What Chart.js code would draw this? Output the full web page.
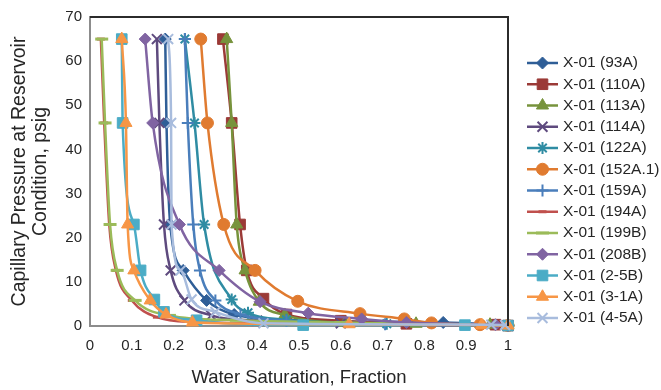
<!DOCTYPE html>
<html><head><meta charset="utf-8">
<script src="https://cdn.jsdelivr.net/npm/chart.js@4.4.1/dist/chart.umd.min.js"></script>
<style>html,body{margin:0;padding:0;background:#fff;}#wrap{width:661px;height:390px;position:relative;}</style>
</head><body><div id="wrap"><canvas id="c" width="661" height="390"></canvas></div>
<script>
// ---- data (Water saturation, fraction / Capillary pressure, psig) ----
const seriesNames = ['X-01 (93A)','X-01 (110A)','X-01 (113A)','X-01 (114A)','X-01 (122A)','X-01 (152A.1)','X-01 (159A)','X-01 (194A)','X-01 (199B)','X-01 (208B)','X-01 (2-5B)','X-01 (3-1A)','X-01 (4-5A)'];
const xTicks = [0,0.1,0.2,0.3,0.4,0.5,0.6,0.7,0.8,0.9,1];
const xTickLabels = ['0','0.1','0.2','0.3','0.4','0.5','0.6','0.7','0.8','0.9','1'];
const yTicks = [0,10,20,30,40,50,60,70];

const sw_93A  = [0.18,0.183,0.192,0.223,0.279,0.345,0.52,0.845,1.0];
const pc_93A  = [65,46,23,12.6,5.8,2.6,1.2,0.8,0.2];
const sw_110A = [0.318,0.339,0.359,0.375,0.415,0.47,0.6,0.757,0.97,1.0];
const pc_110A = [65,46,23,12.6,6.2,2.6,1.2,0.5,0.3,0.1];
const sw_113A = [0.327,0.339,0.351,0.371,0.405,0.466,0.61,0.78,0.957,1.0];
const pc_113A = [65,46,23,12.6,5.5,2.5,0.7,0.5,0.3,0.1];
const sw_114A = [0.16,0.166,0.177,0.193,0.226,0.29,0.4,0.6,1.0];
const pc_114A = [65,46,23,12.6,5.8,2.4,1.2,0.6,0.1];
const sw_122A = [0.227,0.25,0.273,0.339,0.378,0.47,0.71,1.0];
const pc_122A = [65,46,23,6.0,3.0,1.4,0.5,0.1];
const sw_152A = [0.265,0.281,0.32,0.395,0.497,0.646,0.752,0.817,0.933,1.0];
const pc_152A = [65,46,23,12.6,5.6,2.8,1.6,0.7,0.3,0.1];
const sw_159A = [0.227,0.234,0.247,0.263,0.3,0.36,0.47,0.706,1.0];
const pc_159A = [65,46,23,12.6,5.8,2.6,1.2,0.4,0.1];
const sw_194A = [0.026,0.034,0.046,0.062,0.1,0.16,0.25,0.5,1.0];
const pc_194A = [65,46,23,12.6,5.8,2.0,0.9,0.5,0.1];
const sw_199B = [0.028,0.036,0.048,0.065,0.108,0.19,0.35,0.6,1.0];
const pc_199B = [65,46,23,12.6,5.8,2.4,1.3,0.8,0.1];
const sw_208B = [0.132,0.15,0.214,0.309,0.407,0.522,0.65,0.757,0.97,1.0];
const pc_208B = [65,46,23,12.6,5.5,2.9,1.6,0.8,0.3,0.1];
const sw_25B  = [0.076,0.078,0.105,0.121,0.154,0.177,0.255,0.51,0.897,1.0];
const pc_25B  = [65,46,23,12.6,6.0,3.2,1.3,0.2,0.2,0.1];
const sw_31A  = [0.076,0.086,0.09,0.105,0.144,0.182,0.245,0.62,0.937,1.0];
const pc_31A  = [65,46,23,12.6,5.8,2.6,0.8,0.4,0.2,0.1];
const sw_45A  = [0.187,0.194,0.195,0.217,0.243,0.3,0.415,0.96,0.993];
const pc_45A  = [65,46,23,12.6,6.0,3.2,0.6,0.3,0.2];

const swSets = [sw_93A,sw_110A,sw_113A,sw_114A,sw_122A,sw_152A,sw_159A,sw_194A,sw_199B,sw_208B,sw_25B,sw_31A,sw_45A];
const pcSets = [pc_93A,pc_110A,pc_113A,pc_114A,pc_122A,pc_152A,pc_159A,pc_194A,pc_199B,pc_208B,pc_25B,pc_31A,pc_45A];

// ---- styles ----
const colors = ['#2F5E97','#9B3A37','#77933C','#5E4A7E','#2F8CA3','#E07B30','#4A7EBB','#C0504D','#9BBB59','#8064A2','#4BACC6','#F79646','#A8BCDD'];
const markers = ['rectRot','rect','triangle','crossRot','star','circle','cross','line','line','rectRot','rect','triangle','crossRot'];
const radii   = [6,7.5,7,7,6,6,6,4,6.5,6,7.5,7,7];
const mWidth  = [1,1,1,2,2,1,2,3,3,1,1,1,2];

const FONT = "'Liberation Sans', Arial, sans-serif";
const TXT = '#262626';

const datasets = seriesNames.map((name,i)=>({
  label: name,
  data: swSets[i].map((x,j)=>({x:x, y:pcSets[i][j]})),
  borderColor: colors[i],
  backgroundColor: colors[i],
  borderWidth: 2.5,
  pointStyle: markers[i],
  pointRadius: radii[i],
  pointHoverRadius: radii[i],
  pointBorderWidth: mWidth[i],
  pointBackgroundColor: colors[i],
  pointBorderColor: colors[i],
  cubicInterpolationMode: 'monotone',
  clip: false,
  order: -i
}));

const frameAndLegend = {
  id: 'frameAndLegend',
  afterDraw(chart) {
    const ctx = chart.ctx, a = chart.chartArea;
    ctx.save();
    ctx.strokeStyle = '#2b2b2b';
    ctx.lineWidth = 2;
    ctx.beginPath();
    ctx.moveTo(a.left, a.top); ctx.lineTo(a.right, a.top); ctx.lineTo(a.right, a.bottom);
    ctx.stroke();
    const x0 = 527, x1 = 558, tx = 563, y0 = 63, dy = 21.25;
    ctx.font = '15.5px ' + FONT;
    ctx.textBaseline = 'middle';
    ctx.textAlign = 'left';
    chart.data.datasets.forEach((ds,i)=>{
      const y = y0 + i*dy;
      ctx.strokeStyle = ds.borderColor;
      ctx.lineWidth = 2.5;
      ctx.beginPath(); ctx.moveTo(x0,y); ctx.lineTo(x1,y); ctx.stroke();
      ctx.fillStyle = ds.pointBackgroundColor;
      ctx.strokeStyle = ds.pointBorderColor;
      ctx.lineWidth = ds.pointBorderWidth;
      Chart.helpers.drawPoint(ctx, {pointStyle: ds.pointStyle, radius: ds.pointRadius, borderWidth: ds.pointBorderWidth, rotation: 0}, (x0+x1)/2, y);
      ctx.fillStyle = TXT;
      ctx.fillText(ds.label, tx, y);
    });
    ctx.restore();
  }
};

new Chart(document.getElementById('c'), {
  type: 'line',
  data: { datasets },
  plugins: [frameAndLegend],
  options: {
    responsive: false,
    devicePixelRatio: 1,
    animation: false,
    layout: { padding: { left: 0, right: 153, top: 14, bottom: 0 } },
    plugins: { legend: { display: false }, tooltip: { enabled: false } },
    scales: {
      x: {
        type: 'linear', min: 0, max: 1,
        afterBuildTicks: s => { s.ticks = xTicks.map(v=>({value:v})); },
        afterFit: s => { s.height = 64; },
        grid: { display: true, color: 'rgba(0,0,0,0)', drawTicks: false },
        border: { display: true, color: '#8c8c8c', width: 2 },
        ticks: { color: TXT, font: { family: FONT, size: 15 }, padding: 11, maxRotation: 0,
                 callback: (v, idx) => xTickLabels[idx] },
        title: { display: true, text: 'Water Saturation, Fraction', color: TXT, font: { family: FONT, size: 18.5, lineHeight: 1.2 }, padding: { top: 0, bottom: 1 } }
      },
      y: {
        type: 'linear', min: 0, max: 70,
        afterBuildTicks: s => { s.ticks = yTicks.map(v=>({value:v})); },
        afterFit: s => { s.width = 90; },
        grid: { display: true, color: 'rgba(0,0,0,0)', drawTicks: false },
        border: { display: true, color: '#8c8c8c', width: 2 },
        ticks: { color: TXT, font: { family: FONT, size: 15 }, padding: 8 },
        title: { display: true, text: ['Capillary Pressure at Reservoir','Condition, psig'], color: TXT, font: { family: FONT, size: 19.5, lineHeight: 1.08 }, padding: { top: 9.5, bottom: 0 } }
      }
    }
  }
});
</script>
</body></html>
